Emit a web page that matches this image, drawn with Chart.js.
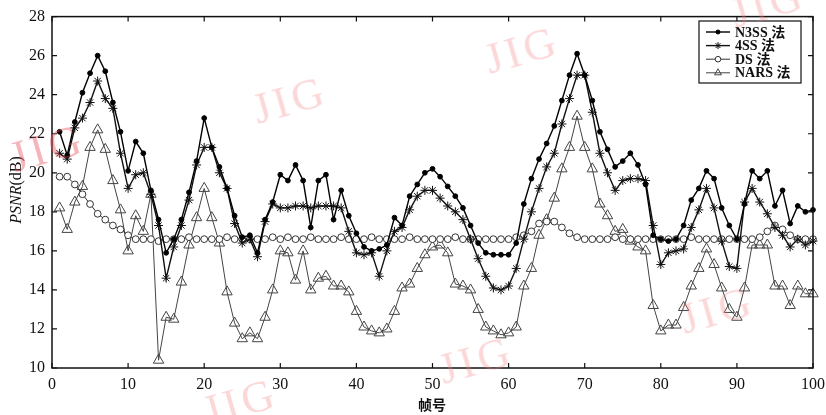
<!DOCTYPE html>
<html>
<head>
<meta charset="utf-8">
<script src="https://cdn.jsdelivr.net/npm/chart.js@4/dist/chart.umd.min.js"></script>
<style>
  body { margin: 0; background: #fff; }
  #wrap { position: relative; width: 826px; height: 415px; overflow: hidden; }
  .mark {
    position: absolute;
    font-family: "Liberation Serif", serif;
    font-size: 44px;
    letter-spacing: 4px;
    color: rgba(242, 130, 135, 0.32);
    transform: translate(-50%, -50%) rotate(-16deg);
    white-space: nowrap;
    pointer-events: none;
  }
  #ytitle {
    position: absolute;
    left: 16px; top: 190px;
    transform: translate(-50%, -50%) rotate(-90deg);
    font-family: "Liberation Serif", serif;
    font-size: 16px;
    color: #111;
    white-space: nowrap;
  }
  #xtitle {
    position: absolute;
    left: 432px; top: 404px;
    transform: translate(-50%, -50%);
    font-family: "Noto Sans CJK SC", sans-serif;
    font-size: 14px;
    font-weight: bold;
    color: #111;
  }
</style>
</head>
<body>
<div id="wrap">
  <canvas id="chart" width="826" height="415"></canvas>
  <div id="ytitle"><i>PSNR</i>(dB)</div>
  <div id="xtitle">帧号</div>
  <div class="mark" style="left:290px;top:100px">JIG</div>
  <div class="mark" style="left:522px;top:50px">JIG</div>
  <div class="mark" style="left:47px;top:148px;color:rgba(230,80,90,0.42)">JIG</div>
  <div class="mark" style="left:240px;top:402px">JIG</div>
  <div class="mark" style="left:476px;top:360px">JIG</div>
  <div class="mark" style="left:717px;top:310px">JIG</div>
  <div class="mark" style="left:768px;top:4px">JIG</div>
</div>
<script>
// frame numbers 1..100
const frames = Array.from({ length: 100 }, (_, i) => i + 1);

const xTicks = [0, 10, 20, 30, 40, 50, 60, 70, 80, 90, 100];
const yTicks = [10, 12, 14, 16, 18, 20, 22, 24, 26, 28];

const seriesNames = ['N3SS 法', '4SS 法', 'DS 法', 'NARS 法'];

const n3ssValues = [
  22.1, 20.9, 22.6, 24.1, 25.1, 26.0, 25.2, 23.6, 22.1, 20.1,
  21.6, 21.0, 19.1, 17.6, 15.9, 16.6, 17.6, 19.0, 20.6, 22.8,
  21.3, 20.3, 19.2, 17.8, 16.7, 16.8, 15.9, 17.6, 18.5, 19.9,
  19.6, 20.4, 19.6, 17.2, 19.6, 19.9, 17.6, 19.1, 17.8, 16.9,
  16.2, 16.0, 16.1, 16.3, 17.7, 17.3, 18.8, 19.4, 20.0, 20.2,
  19.8, 19.3, 18.8, 18.2, 17.3, 16.4, 15.9, 15.8, 15.8, 15.8,
  16.4, 18.4, 19.7, 20.7, 21.5, 22.4, 23.7, 25.0, 26.1, 25.0,
  23.7, 22.1, 21.2, 20.3, 20.6, 21.0, 20.4, 19.4, 16.8, 16.6,
  16.5, 16.6, 17.3, 18.6, 19.2, 20.1, 19.7, 18.2, 17.3, 16.6,
  18.4, 20.1, 19.7, 20.1, 18.3, 19.1, 17.4, 18.3, 18.0, 18.1
];

const fourSSValues = [
  21.0, 20.7, 22.3, 22.8, 23.6, 24.7, 23.8, 23.3, 21.0, 19.2,
  19.9, 20.0, 18.9, 17.3, 14.6, 16.2, 17.3, 18.6, 20.4, 21.3,
  21.3, 20.0, 19.2, 17.4, 16.4, 16.6, 15.7, 17.5, 18.4, 18.2,
  18.2, 18.3, 18.3, 18.2, 18.3, 18.3, 18.3, 18.2, 17.0, 15.9,
  15.8, 15.9, 14.7, 16.0, 17.0, 17.2, 18.1, 18.8, 19.1, 19.1,
  18.7, 18.3, 18.0, 17.6, 16.6, 15.6, 14.7, 14.1, 14.0, 14.2,
  15.1, 16.6, 18.0, 19.2, 20.3, 21.0, 22.5, 23.8, 25.0, 25.0,
  23.1, 21.0, 20.0, 19.1, 19.6, 19.7, 19.7, 19.6, 17.3, 15.3,
  15.9, 16.0, 16.1, 17.2, 18.1, 19.2, 18.2, 16.5, 15.2, 15.1,
  18.5, 19.2, 18.5, 17.9, 17.2, 16.8, 16.2, 16.6, 16.3, 16.5
];

const dsValues = [
  19.8, 19.8, 19.4, 18.9, 18.4, 17.9, 17.6, 17.3, 17.1, 16.8,
  16.6, 16.6, 16.6, 16.5, 16.6, 16.6, 16.6, 16.7, 16.6, 16.6,
  16.6, 16.6, 16.7, 16.6, 16.6, 16.6, 16.6, 16.6, 16.7, 16.6,
  16.7, 16.6, 16.6, 16.7, 16.6, 16.6, 16.6, 16.7, 16.6, 16.6,
  16.6, 16.7, 16.6, 16.6, 16.6, 16.6, 16.7, 16.6, 16.6, 16.6,
  16.6, 16.6, 16.7, 16.6, 16.6, 16.6, 16.6, 16.6, 16.6, 16.6,
  16.7, 16.8, 17.0, 17.4, 17.5, 17.5, 17.2, 16.9, 16.7, 16.6,
  16.6, 16.6, 16.6, 16.7, 16.6, 16.6, 16.6, 16.6, 16.6, 16.6,
  16.6, 16.6, 16.6, 16.7, 16.6, 16.6, 16.6, 16.6, 16.6, 16.6,
  16.6, 16.6, 16.7, 17.0, 17.3, 17.1, 16.8, 16.6, 16.6, 16.6
];

const narsValues = [
  18.2, 17.1, 18.5, 19.3, 21.3, 22.2, 21.2, 19.6, 18.1, 16.0,
  17.8, 17.0, 18.9, 10.4, 12.6, 12.5, 14.4, 16.3, 17.7, 19.2,
  17.7, 16.4, 13.9, 12.3, 11.5, 11.8, 11.5, 12.6, 14.0, 16.0,
  15.9, 14.5, 16.0, 14.0, 14.6, 14.7, 14.2, 14.2, 13.9, 12.9,
  12.1, 11.9, 11.8, 12.0, 12.9, 14.1, 14.3, 15.1, 15.8, 16.2,
  16.3, 15.9, 14.3, 14.2, 14.0, 13.0, 12.1, 11.9, 11.7, 11.8,
  12.1, 14.2, 15.1, 16.8, 17.6, 18.7, 20.2, 21.3, 22.9, 21.3,
  20.2, 18.4, 17.8, 17.0, 17.1, 16.5, 16.2, 16.0, 13.2, 11.9,
  12.2, 12.2, 13.1, 14.2, 15.1, 16.1, 15.3, 14.1, 13.0, 12.6,
  14.1, 16.3, 16.3, 16.3, 14.2, 14.2, 13.2, 14.2, 13.8, 13.8
];

const toPoints = (vals) => vals.map((v, i) => ({ x: frames[i], y: v }));

const styles = [
  { color: '#000', width: 1.4, point: 'circle', radius: 2.4, fill: '#000' },
  { color: '#111', width: 1.4, point: 'star', radius: 4.5, fill: '#111' },
  { color: '#333', width: 1, point: 'circle', radius: 3.4, fill: '#fff' },
  { color: '#444', width: 1, point: 'triangle', radius: 6, fill: 'rgba(255,255,255,0)' }
];

const allValues = [n3ssValues, fourSSValues, dsValues, narsValues];

const datasets = allValues.map((vals, i) => ({
  label: seriesNames[i],
  data: toPoints(vals),
  borderColor: styles[i].color,
  borderWidth: styles[i].width,
  pointStyle: styles[i].point,
  pointRadius: styles[i].radius,
  pointBorderColor: styles[i].color,
  pointBackgroundColor: styles[i].fill,
  pointBorderWidth: 1,
  tension: 0,
  clip: false
}));

const serifFont = { family: "'Liberation Serif', serif", size: 16 };

// frame box, inward ticks and legend box
const framePlugin = {
  id: 'frame',
  afterDraw(chart) {
    const { ctx, chartArea: a, scales } = chart;
    ctx.save();
    ctx.strokeStyle = '#111';
    ctx.lineWidth = 1.5;
    ctx.strokeRect(a.left, a.top, a.right - a.left, a.bottom - a.top);
    ctx.lineWidth = 1.2;
    const len = 5;
    ctx.beginPath();
    xTicks.forEach(t => {
      const x = scales.x.getPixelForValue(t);
      ctx.moveTo(x, a.bottom); ctx.lineTo(x, a.bottom - len);
      ctx.moveTo(x, a.top); ctx.lineTo(x, a.top + len);
    });
    yTicks.forEach(t => {
      const y = scales.y.getPixelForValue(t);
      ctx.moveTo(a.left, y); ctx.lineTo(a.left + len, y);
      ctx.moveTo(a.right, y); ctx.lineTo(a.right - len, y);
    });
    ctx.stroke();

    // legend
    const lx = 699, ly = 21, lw = 102, lh = 62;
    ctx.fillStyle = '#fff';
    ctx.fillRect(lx, ly, lw, lh);
    ctx.lineWidth = 1.2;
    ctx.strokeRect(lx, ly, lw, lh);
    ctx.font = "bold 14px 'Liberation Serif', 'Noto Sans CJK SC', serif";
    ctx.textBaseline = 'middle';
    seriesNames.forEach((name, i) => {
      const s = styles[i];
      const y = ly + 11 + i * 13.6;
      ctx.strokeStyle = s.color;
      ctx.lineWidth = s.width;
      ctx.beginPath();
      ctx.moveTo(706, y); ctx.lineTo(730, y);
      ctx.stroke();
      const cx = 718;
      ctx.lineWidth = 1;
      ctx.beginPath();
      if (s.point === 'circle') {
        const r = i === 0 ? 2 : 2.8;
        ctx.arc(cx, y, r, 0, Math.PI * 2);
        ctx.fillStyle = s.fill;
        ctx.fill();
        ctx.stroke();
      } else if (s.point === 'star') {
        const r = 3.5;
        ctx.moveTo(cx - r, y); ctx.lineTo(cx + r, y);
        ctx.moveTo(cx, y - r); ctx.lineTo(cx, y + r);
        ctx.moveTo(cx - r * 0.7, y - r * 0.7); ctx.lineTo(cx + r * 0.7, y + r * 0.7);
        ctx.moveTo(cx - r * 0.7, y + r * 0.7); ctx.lineTo(cx + r * 0.7, y - r * 0.7);
        ctx.stroke();
      } else {
        const r = 4;
        ctx.moveTo(cx, y - r); ctx.lineTo(cx + r * 0.87, y + r * 0.5);
        ctx.lineTo(cx - r * 0.87, y + r * 0.5); ctx.closePath();
        ctx.stroke();
      }
      ctx.fillStyle = '#111';
      ctx.fillText(name, 735, y + 1);
    });
    ctx.restore();
  }
};

new Chart(document.getElementById('chart'), {
  type: 'line',
  data: { datasets },
  options: {
    responsive: false,
    animation: false,
    layout: { padding: { top: 15, right: 0, left: 0, bottom: 0 } },
    plugins: {
      legend: { display: false },
      tooltip: { enabled: false }
    },
    scales: {
      x: {
        type: 'linear',
        min: 0,
        max: 100,
        afterFit: (s) => { s.height = 47; s.paddingRight = 13; },
        afterBuildTicks: (s) => { s.ticks = xTicks.map(v => ({ value: v })); },
        grid: { display: false, drawTicks: false },
        border: { display: false },
        ticks: { color: '#111', font: serifFont, padding: 7, maxRotation: 0 }
      },
      y: {
        min: 10,
        max: 28,
        afterFit: (s) => { s.width = 52; },
        afterBuildTicks: (s) => { s.ticks = yTicks.map(v => ({ value: v })); },
        grid: { display: false, drawTicks: false },
        border: { display: false },
        ticks: { color: '#111', font: serifFont, padding: 7 }
      }
    }
  },
  plugins: [framePlugin]
});
</script>
</body>
</html>
